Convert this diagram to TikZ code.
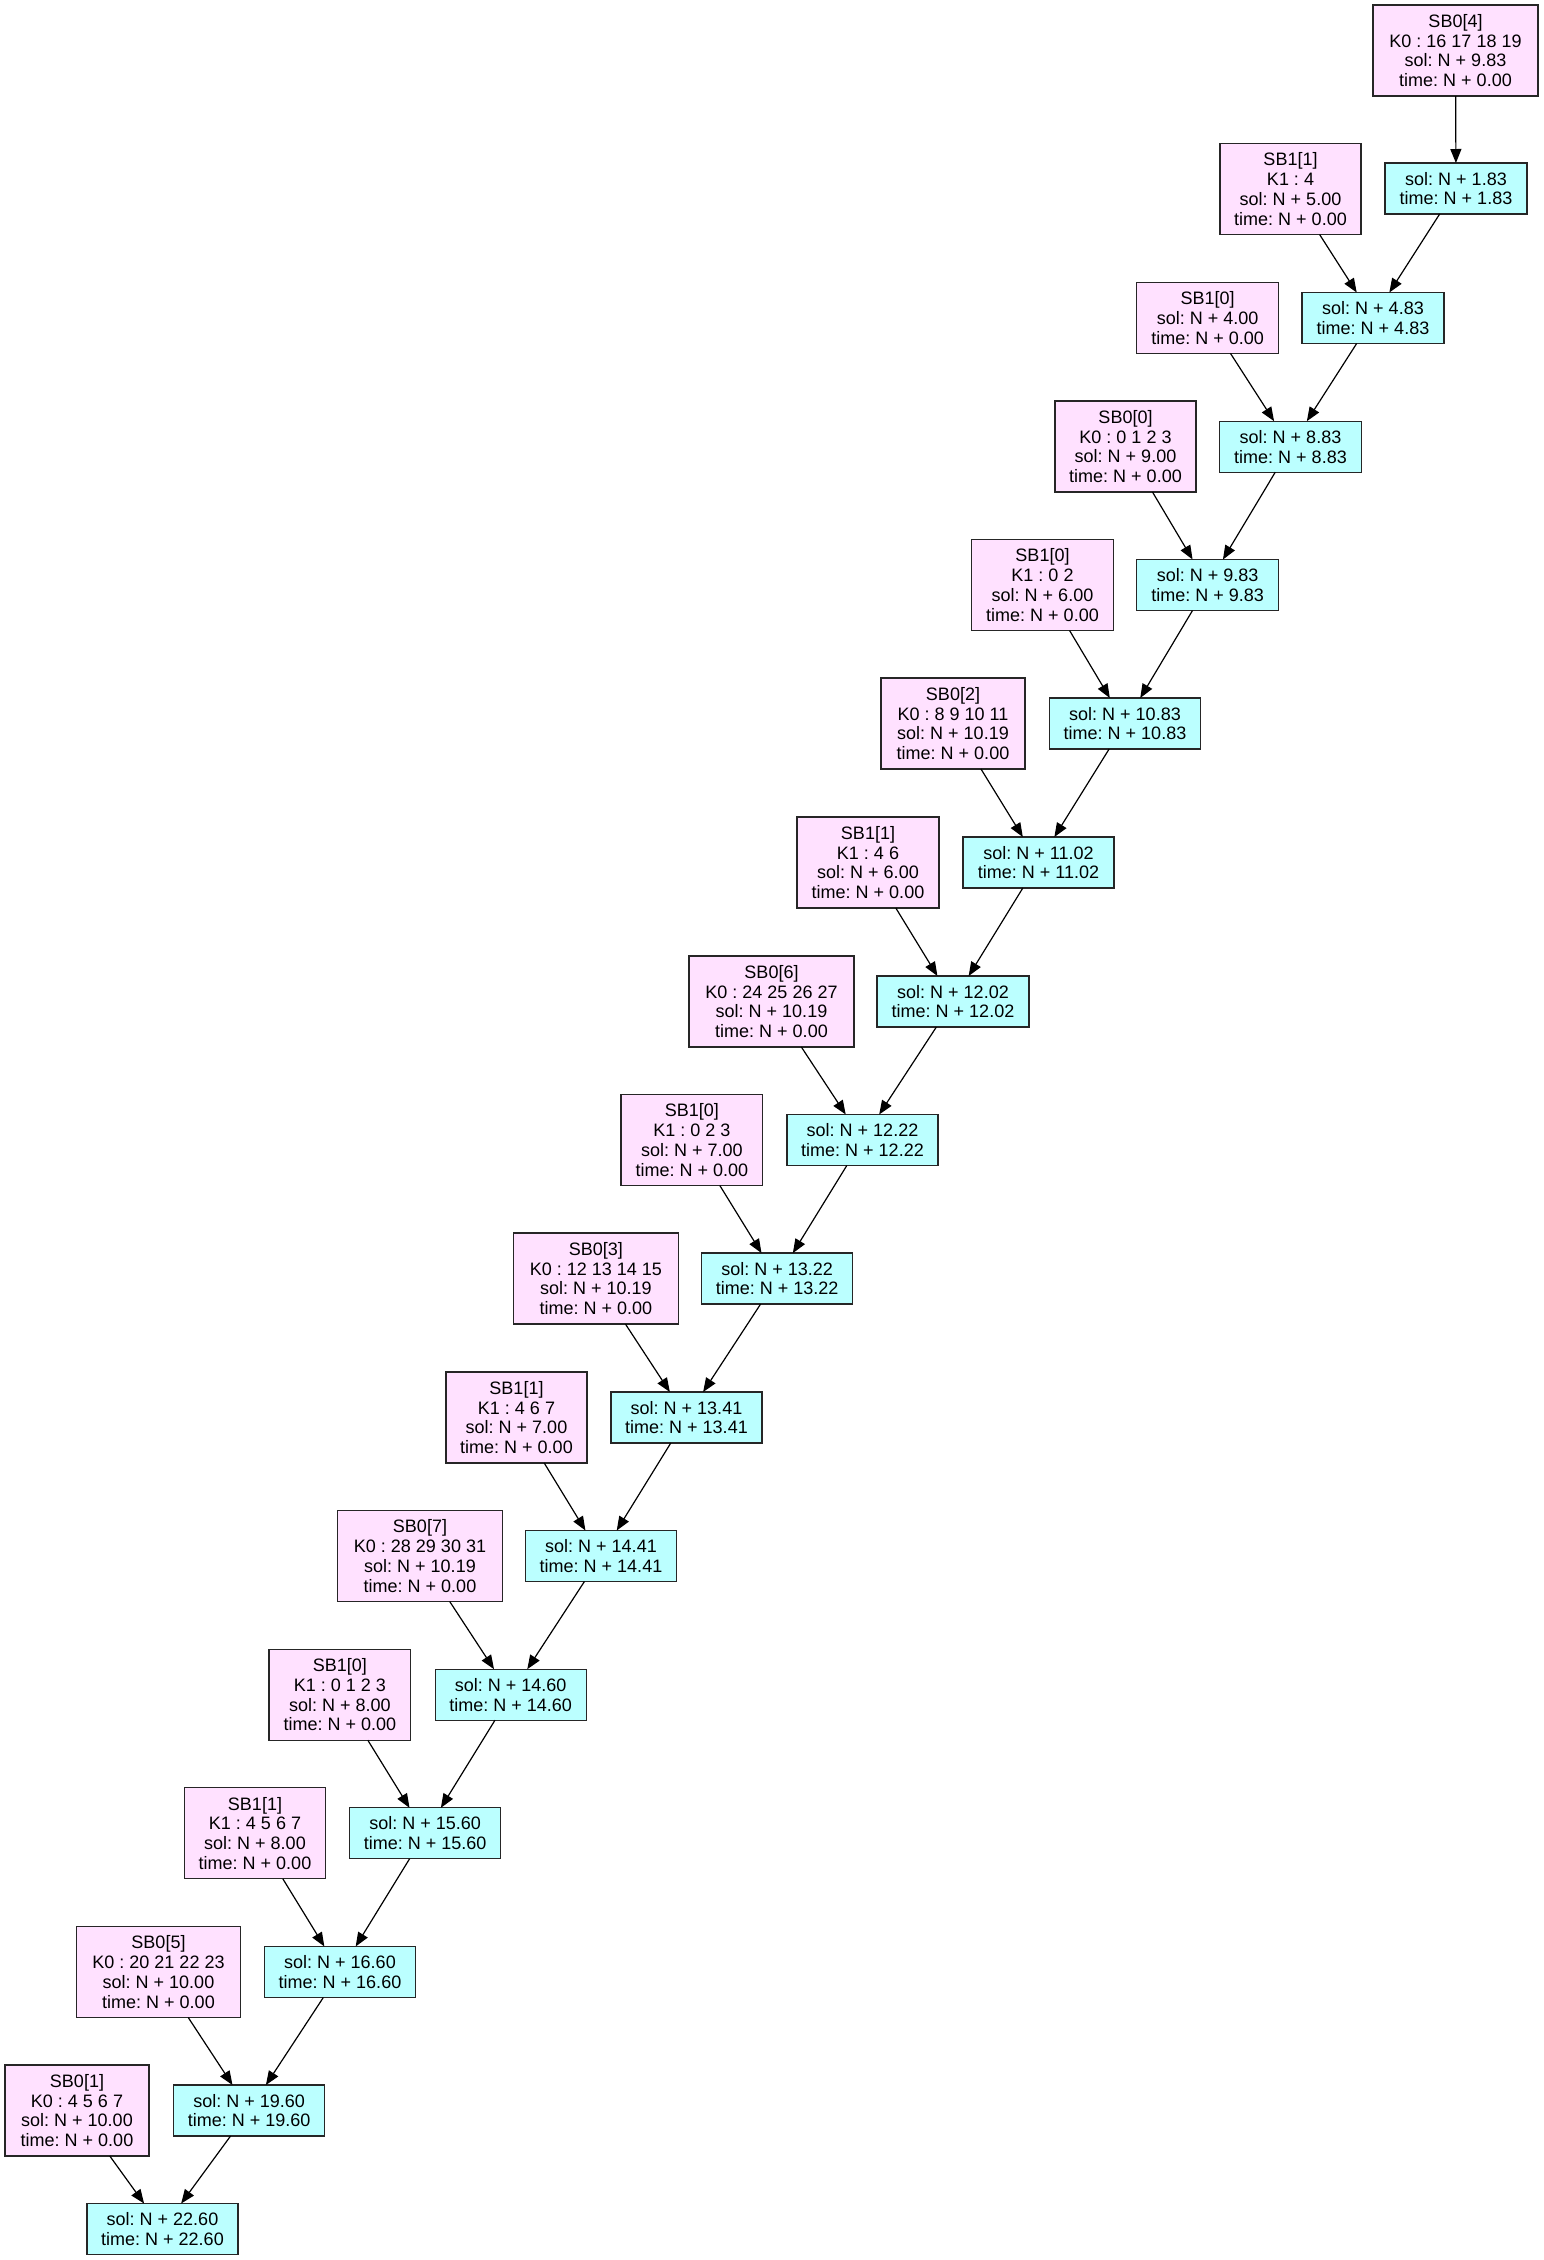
\documentclass[tikz,border=0pt]{standalone}
\usepackage{fontspec}
\setmainfont{Liberation Sans}
\usetikzlibrary{arrows.meta}
\definecolor{pinkfill}{HTML}{FFE1FF}
\definecolor{cyanfill}{HTML}{BBFFFF}
\frenchspacing
\tikzset{
  box/.style={draw=black!85, line width=1.3pt, inner sep=0pt, outer sep=0pt, align=center,
    font=\fontsize{18}{19.8}\selectfont\frenchspacing, minimum height=91pt},
  pinkbox/.style={box, fill=pinkfill},
  cyanbox/.style={box, fill=cyanfill, minimum height=51pt},
  conn/.style={-{Triangle[length=14pt,width=11pt]}, line width=1.2pt, black}
}
\begin{document}
\begin{tikzpicture}[x=1pt,y=-1pt]
\fill[white] (0,0) rectangle (1543,2260);
% pink nodes
\node[pinkbox, minimum width=165pt] (p0) at (1455.5,50.5) {SB0[4]\\K0 : 16 17 18 19\\sol: N + 9.83\\time: N + 0.00};
\node[pinkbox, minimum width=141pt] (p1) at (1290.5,189) {SB1[1]\\K1 : 4\\sol: N + 5.00\\time: N + 0.00};
\node[pinkbox, minimum width=142pt, minimum height=70.6pt] (p2) at (1207.7,318) {SB1[0]\\sol: N + 4.00\\time: N + 0.00};
\node[pinkbox, minimum width=141pt] (p3) at (1125.5,446.5) {SB0[0]\\K0 : 0 1 2 3\\sol: N + 9.00\\time: N + 0.00};
\node[pinkbox, minimum width=141.6pt] (p4) at (1042.5,585) {SB1[0]\\K1 : 0 2\\sol: N + 6.00\\time: N + 0.00};
\node[pinkbox, minimum width=144pt] (p5) at (953,723.5) {SB0[2]\\K0 : 8 9 10 11\\sol: N + 10.19\\time: N + 0.00};
\node[pinkbox, minimum width=142pt] (p6) at (868,862.5) {SB1[1]\\K1 : 4 6\\sol: N + 6.00\\time: N + 0.00};
\node[pinkbox, minimum width=165pt] (p7) at (771.5,1001.5) {SB0[6]\\K0 : 24 25 26 27\\sol: N + 10.19\\time: N + 0.00};
\node[pinkbox, minimum width=141.7pt] (p8) at (691.8,1140) {SB1[0]\\K1 : 0 2 3\\sol: N + 7.00\\time: N + 0.00};
\node[pinkbox, minimum width=165pt] (p9) at (595.8,1278.6) {SB0[3]\\K0 : 12 13 14 15\\sol: N + 10.19\\time: N + 0.00};
\node[pinkbox, minimum width=141pt] (p10) at (516.5,1417.5) {SB1[1]\\K1 : 4 6 7\\sol: N + 7.00\\time: N + 0.00};
\node[pinkbox, minimum width=165pt] (p11) at (420,1556) {SB0[7]\\K0 : 28 29 30 31\\sol: N + 10.19\\time: N + 0.00};
\node[pinkbox, minimum width=141.7pt] (p12) at (339.8,1694.7) {SB1[0]\\K1 : 0 1 2 3\\sol: N + 8.00\\time: N + 0.00};
\node[pinkbox, minimum width=141pt] (p13) at (255,1833.3) {SB1[1]\\K1 : 4 5 6 7\\sol: N + 8.00\\time: N + 0.00};
\node[pinkbox, minimum width=164.4pt] (p14) at (158.5,1972) {SB0[5]\\K0 : 20 21 22 23\\sol: N + 10.00\\time: N + 0.00};
\node[pinkbox, minimum width=144pt] (p15) at (77,2110.5) {SB0[1]\\K0 : 4 5 6 7\\sol: N + 10.00\\time: N + 0.00};
% cyan nodes
\node[cyanbox, minimum width=142pt] (c1) at (1456,188.5) {sol: N + 1.83\\time: N + 1.83};
\node[cyanbox, minimum width=142pt] (c2) at (1373,318) {sol: N + 4.83\\time: N + 4.83};
\node[cyanbox, minimum width=142pt] (c3) at (1290.5,446.7) {sol: N + 8.83\\time: N + 8.83};
\node[cyanbox, minimum width=142pt] (c4) at (1207.7,585) {sol: N + 9.83\\time: N + 9.83};
\node[cyanbox, minimum width=151pt] (c5) at (1125,723.5) {sol: N + 10.83\\time: N + 10.83};
\node[cyanbox, minimum width=151pt] (c6) at (1038.5,862.5) {sol: N + 11.02\\time: N + 11.02};
\node[cyanbox, minimum width=152pt] (c7) at (953,1001.5) {sol: N + 12.02\\time: N + 12.02};
\node[cyanbox, minimum width=151pt] (c8) at (862.5,1140) {sol: N + 12.22\\time: N + 12.22};
\node[cyanbox, minimum width=151pt] (c9) at (777.2,1278.6) {sol: N + 13.22\\time: N + 13.22};
\node[cyanbox, minimum width=151pt] (c10) at (686.5,1417.5) {sol: N + 13.41\\time: N + 13.41};
\node[cyanbox, minimum width=151pt] (c11) at (601,1556) {sol: N + 14.41\\time: N + 14.41};
\node[cyanbox, minimum width=151pt] (c12) at (510.7,1694.7) {sol: N + 14.60\\time: N + 14.60};
\node[cyanbox, minimum width=151pt] (c13) at (425.2,1833.3) {sol: N + 15.60\\time: N + 15.60};
\node[cyanbox, minimum width=151pt] (c14) at (340,1972) {sol: N + 16.60\\time: N + 16.60};
\node[cyanbox, minimum width=151pt] (c15) at (249.2,2110.5) {sol: N + 19.60\\time: N + 19.60};
\node[cyanbox, minimum width=151pt] (c16) at (162.5,2229) {sol: N + 22.60\\time: N + 22.60};
% connectors
\draw[conn] (p0) -- (c1);
\foreach \k [evaluate=\k as \j using int(\k-1)] in {2,...,16} {
  \draw[conn] (p\j) -- (c\k);
  \draw[conn] (c\j) -- (c\k);
}
\end{tikzpicture}
\end{document}
